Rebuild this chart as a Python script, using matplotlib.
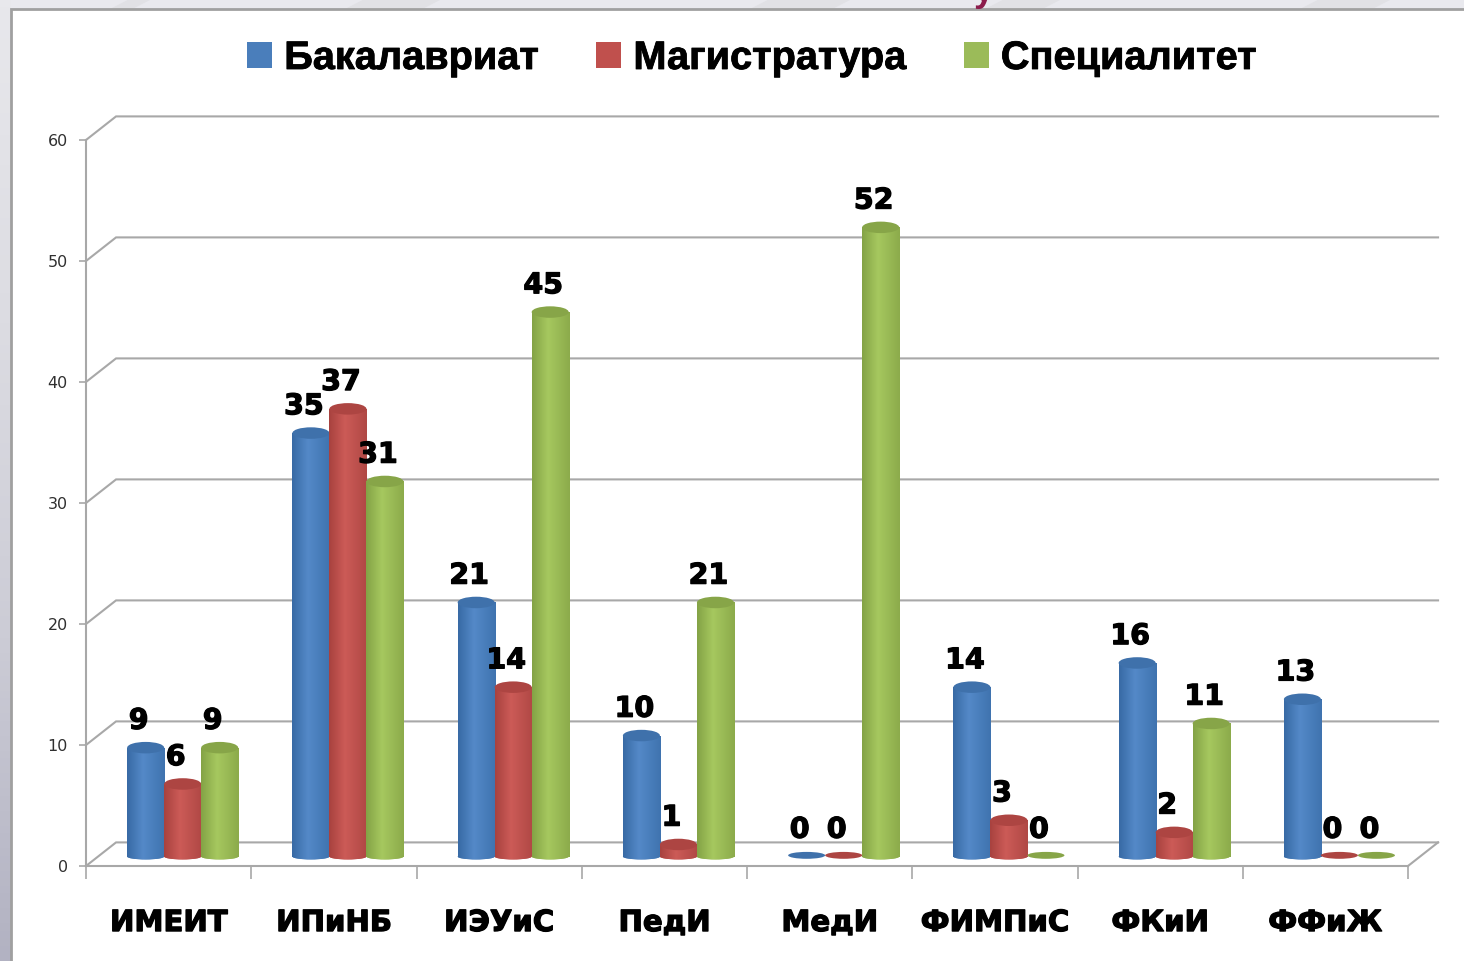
import numpy as np
import matplotlib
matplotlib.use('Agg')
import matplotlib.pyplot as plt
import matplotlib.patheffects as pe
from matplotlib.patches import Ellipse, Patch, Polygon, Rectangle
from matplotlib.colors import LinearSegmentedColormap

# данные диаграммы
institutes = ['ИМЕИТ', 'ИПиНБ', 'ИЭУиС', 'ПедИ', 'МедИ', 'ФИМПиС', 'ФКиИ', 'ФФиЖ']
bachelor = [9, 35, 21, 10, 0, 14, 16, 13]
master = [6, 37, 14, 1, 0, 3, 2, 0]
specialist = [9, 31, 45, 21, 52, 0, 11, 0]
series_names = ['Бакалавриат', 'Магистратура', 'Специалитет']
y_ticks = [0, 10, 20, 30, 40, 50, 60]

W, H = 1464, 961
GRID = '#a8a8a8'
# цвета цилиндров: край, блик, край, крышка
colors = [
    ('#386aa5', '#5489c8', '#3f73af', '#3f71ab'),
    ('#a8423f', '#cc5b57', '#b04845', '#ad4542'),
    ('#84a346', '#a6c85f', '#8cab4b', '#87a548'),
]
solid = ['#4a7ebb', '#c0504d', '#9bbb59']
heavy = [pe.withStroke(linewidth=0.9, foreground='black')]

fig = plt.figure(figsize=(W / 100, H / 100), dpi=100, facecolor='#e9e9ee')

# фон слайда: полоса слева темнеет книзу, сверху светлые блики
bg = fig.add_axes([0, 0, 11 / W, 1], zorder=-3)
bg_cmap = LinearSegmentedColormap.from_list('bg', ['#e8e8ec', '#dcdce2', '#ccccd6', '#b2b2c2'])
bg.imshow(np.linspace(0, 1, 128).reshape(-1, 1), cmap=bg_cmap, aspect='auto')
bg.axis('off')
for x0, x1 in [(110, 150), (345, 440), (750, 850), (985, 1060), (1300, 1390)]:
    fig.add_artist(Polygon([(x0 / W, 1 - 9 / H), (x1 / W - 0.012, 1 - 9 / H), (x1 / W, 1), (x0 / W + 0.012, 1)],
                           closed=True, transform=fig.transFigure, facecolor='#e1e1e5',
                           edgecolor='none', zorder=-2.5))

# белая панель
fig.add_artist(Rectangle((11 / W, -0.01), 1, 1.01 - 9 / H, transform=fig.transFigure,
                         facecolor='white', edgecolor='#a0a0a0', linewidth=2, zorder=-2))
fig.text(984 / W, 1 - 1 / H, 'у', color='#8c1c4c', fontsize=26, fontweight='bold',
         ha='center', va='baseline', family='Liberation Sans', zorder=-1)

ax = fig.add_axes([86 / W, 1 - 866 / H, (1408 - 86) / W, (866 - 140) / H])
ax.patch.set_visible(False)
n = len(institutes)

# смещение задней стенки и рядов в глубину
back_x, back_y = 30 / 165, 1.95
mid_x, mid_y = 0.085, 0.78
bar_w = 0.224
ell_h = 0.95

# стенки и сетка
for t in y_ticks:
    ax.plot([0, back_x, n + back_x], [t, t + back_y, t + back_y], color=GRID, lw=1.5,
            clip_on=False, zorder=1, solid_joinstyle='miter')
ax.plot([n, n + back_x], [0, back_y], color=GRID, lw=1.5, clip_on=False, zorder=1)


def shade(patch, x0, x1, y0, y1, cols, z):
    cmap = LinearSegmentedColormap.from_list('c', [(0, cols[0]), (0.42, cols[1]), (1, cols[2])])
    im = ax.imshow(np.linspace(0, 1, 64).reshape(1, -1), cmap=cmap, aspect='auto',
                   extent=(x0, x1, y0, y1), zorder=z, interpolation='bilinear')
    im.set_clip_path(patch)


series = [bachelor, master, specialist]
for i in range(n):
    for s, vals in enumerate(series):
        v = vals[i]
        cx = i + 0.5 + mid_x + (s - 1) * bar_w
        base = mid_y
        z = 3 + s * 0.1
        if v == 0:
            ax.add_patch(Ellipse((cx, base + 0.1), bar_w, ell_h * 0.6, facecolor=colors[s][3],
                                 edgecolor='none', zorder=z, clip_on=False))
        else:
            bottom = Ellipse((cx, base), bar_w, ell_h * 0.5, facecolor=solid[s], edgecolor='none',
                             zorder=z, clip_on=False)
            ax.add_patch(bottom)
            shade(bottom, cx - bar_w / 2, cx + bar_w / 2, base - ell_h, base + ell_h, colors[s], z + 0.01)
            b = ax.bar(cx, v, bar_w, bottom=base, color=solid[s], zorder=z + 0.02, clip_on=False)[0]
            shade(b, cx - bar_w / 2, cx + bar_w / 2, base, base + v, colors[s], z + 0.03)
            ax.add_patch(Ellipse((cx, base + v), bar_w, ell_h, facecolor=colors[s][3],
                                 edgecolor='none', zorder=z + 0.04, clip_on=False))
        ax.annotate(str(v), (cx, base + v), xytext=(-5, 19.3), textcoords='offset points',
                    ha='center', va='center', fontsize=20.5, fontweight='bold', color='black',
                    family='DejaVu Sans', zorder=6, annotation_clip=False, path_effects=heavy)

ax.set_xlim(0, n)
ax.set_ylim(0, 60)
for side in ['top', 'right']:
    ax.spines[side].set_visible(False)
for side in ['left', 'bottom']:
    ax.spines[side].set_color(GRID)
    ax.spines[side].set_linewidth(1.5)

ax.set_yticks(y_ticks)
ax.tick_params(axis='y', length=5, width=1.2, color=GRID, labelsize=11.5, labelcolor='#303030', pad=8)
for lab in ax.get_yticklabels():
    lab.set_family('DejaVu Sans')
ax.set_xticks(np.arange(n + 1))
ax.set_xticklabels([])
ax.set_xticks(np.arange(n) + 0.5, minor=True)
ax.set_xticklabels(institutes, minor=True, fontsize=21, fontweight='bold', family='DejaVu Sans',
                   path_effects=heavy)
ax.tick_params(axis='x', which='major', length=9, width=1.2, color=GRID, direction='out')
ax.tick_params(axis='x', which='minor', length=0, pad=31)

# легенда
handles = [Patch(facecolor=solid[k], edgecolor='none', label=series_names[k]) for k in range(3)]
leg = fig.legend(handles=handles, ncols=3, loc='center', bbox_to_anchor=(752 / W, 1 - 58 / H), frameon=False,
                 prop={'family': 'Liberation Sans', 'weight': 'bold', 'size': 28.6},
                 handlelength=0.63, handleheight=0.63, handletextpad=0.3, columnspacing=1.45)
for t in leg.get_texts():
    t.set_path_effects([pe.withStroke(linewidth=0.6, foreground='black')])

fig.savefig('out.png', dpi=100, facecolor=fig.get_facecolor())
